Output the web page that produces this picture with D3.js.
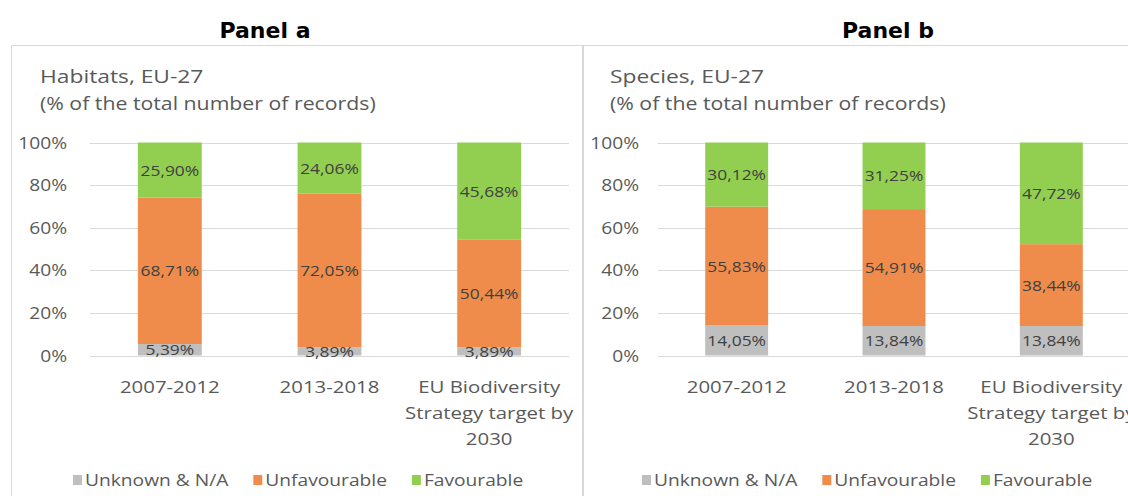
<!DOCTYPE html>
<html>
<head>
<meta charset="utf-8">
<script src="https://cdn.jsdelivr.net/npm/d3@7"></script>
<style>
  html, body { margin: 0; padding: 0; background: #ffffff; }
  svg { display: block; }
</style>
</head>
<body>
<svg id="chart" width="1128" height="496"></svg>
<script>
// ---------- data ----------
const categories = ["2007-2012", "2013-2018", "EU Biodiversity Strategy target by 2030"];
const seriesNames = ["Unknown & N/A", "Unfavourable", "Favourable"];
const habitatsUnknown = [5.39, 3.89, 3.89];
const habitatsUnfavourable = [68.71, 72.05, 50.44];
const habitatsFavourable = [25.90, 24.06, 45.68];
const speciesUnknown = [14.05, 13.84, 13.84];
const speciesUnfavourable = [55.83, 54.91, 38.44];
const speciesFavourable = [30.12, 31.25, 47.72];
const yTickValues = [0, 0.2, 0.4, 0.6, 0.8, 1];
const panelHeadings = ["Panel a", "Panel b"];
const chartTitles = ["Habitats, EU-27", "Species, EU-27"];
const chartSubtitle = "(% of the total number of records)";

// ---------- styling ----------
const colors = { "Unknown & N/A": "#bfbfbf", "Unfavourable": "#ef8c4b", "Favourable": "#92cf51" };
const FONT = "'Open Sans', sans-serif";
const SX = 1.2; // horizontal stretch of the source typography
const svg = d3.select("#chart");

function stretchedText(g, x, y, str, size, color, anchor, sx) {
  return g.append("text")
    .attr("transform", `translate(${x},${y}) scale(${sx || SX},1)`)
    .attr("font-family", FONT)
    .attr("font-size", size)
    .attr("fill", color)
    .attr("text-anchor", anchor || "start")
    .text(str);
}

function fmt(v) { return d3.format(".2f")(v).replace(".", ",") + "%"; }

const panels = [
  { unknown: habitatsUnknown, unfav: habitatsUnfavourable, fav: habitatsFavourable,
    box: 11.5, plot: [90, 569], heading: 265, titleX: 40, tickRight: 67, legendX: 73 },
  { unknown: speciesUnknown, unfav: speciesUnfavourable, fav: speciesFavourable,
    box: 583.5, plot: [658, 1130], heading: 888, titleX: 610, tickRight: 639, legendX: 642 }
];

const y = d3.scaleLinear().domain([0, 1]).range([355.5, 142.5]);

panels.forEach((p, pi) => {
  const g = svg.append("g");

  // heading above box
  g.append("text")
    .attr("x", p.heading).attr("y", 38)
    .attr("font-family", "'DejaVu Sans', sans-serif")
    .attr("font-weight", "bold")
    .attr("font-size", 22)
    .attr("fill", "#000")
    .attr("text-anchor", "middle")
    .text(panelHeadings[pi]);

  // chart box
  g.append("rect")
    .attr("x", p.box).attr("y", 45.5)
    .attr("width", 571).attr("height", 470)
    .attr("fill", "#fff").attr("stroke", "#d9d9d9").attr("stroke-width", 1);

  // titles
  stretchedText(g, p.titleX, 83, chartTitles[pi], 19, "#595959", "start", 1.2);
  stretchedText(g, p.titleX, 110, chartSubtitle, 19, "#595959", "start", 1.12);

  const x = d3.scaleBand().domain(categories).range(p.plot).paddingInner(0.6).paddingOuter(0.3);

  // gridlines
  g.append("g").selectAll("line").data(yTickValues).join("line")
    .attr("x1", p.plot[0]).attr("x2", p.plot[1])
    .attr("y1", d => Math.round(y(d)) + 0.5).attr("y2", d => Math.round(y(d)) + 0.5)
    .attr("stroke", "#d9d9d9").attr("stroke-width", 1);

  // y tick labels
  const yFmt = d3.format(".0%");
  yTickValues.forEach(t => {
    stretchedText(g, p.tickRight, y(t) + 6, yFmt(t), 16, "#595959", "end");
  });

  // stacked data
  const rows = categories.map((c, i) => ({
    cat: c, "Unknown & N/A": p.unknown[i], "Unfavourable": p.unfav[i], "Favourable": p.fav[i]
  }));
  const stacked = d3.stack().keys(seriesNames).offset(d3.stackOffsetExpand)(rows);

  const layers = g.append("g").selectAll("g").data(stacked).join("g")
    .attr("fill", d => colors[d.key]);
  layers.selectAll("rect").data(d => d).join("rect")
    .attr("x", d => x(d.data.cat))
    .attr("width", x.bandwidth())
    .attr("y", d => y(d[1]))
    .attr("height", d => y(d[0]) - y(d[1]));

  // value labels
  stacked.forEach(layer => {
    layer.forEach(d => {
      const cy = (y(d[0]) + y(d[1])) / 2;
      stretchedText(g, x(d.data.cat) + x.bandwidth() / 2, cy + 5.5, fmt(d.data[layer.key]), 14.5, "#404040", "middle");
    });
  });

  // x category labels (wrapped)
  const XFS = 17;
  categories.forEach(c => {
    const cx = x(c) + x.bandwidth() / 2;
    const words = c.split(" ");
    const lines = [];
    let line = [];
    const probe = g.append("text").attr("font-family", FONT).attr("font-size", XFS);
    words.forEach(w => {
      const test = line.concat([w]).join(" ");
      probe.text(test);
      if (probe.node().getComputedTextLength() * SX > x.step() * 1.12 && line.length) {
        lines.push(line.join(" "));
        line = [w];
      } else {
        line.push(w);
      }
    });
    lines.push(line.join(" "));
    probe.remove();
    lines.forEach((ln, li) => {
      stretchedText(g, cx, 393 + li * 26, ln, XFS, "#595959", "middle");
    });
  });

  // legend
  let lx = p.legendX;
  seriesNames.forEach(s => {
    g.append("rect").attr("x", lx).attr("y", 475).attr("width", 9).attr("height", 10)
      .attr("fill", colors[s]);
    const t = stretchedText(g, lx + 12, 486, s, 16, "#595959");
    const w = t.node().getComputedTextLength() * SX;
    lx += 12 + w + 25;
  });
});
</script>
</body>
</html>
